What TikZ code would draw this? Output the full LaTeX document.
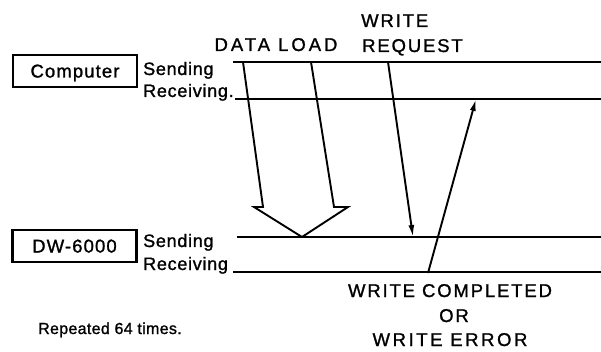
\documentclass[tikz,border=0pt]{standalone}
\usepackage{fontspec}
\setmainfont{Liberation Sans}[FakeBold=1.2]
\usetikzlibrary{arrows.meta}
\begin{document}
\begin{tikzpicture}[x=1pt,y=-1pt,
  tl/.style={line width=2.6pt},
  lbl/.style={inner sep=0pt, font=\fontsize{18}{20}\selectfont\addfontfeature{LetterSpace=4}},
  caps/.style={inner sep=0pt, align=center, font=\fontsize{18.5}{24.5}\selectfont\addfontfeature{LetterSpace=10}},
  unitbox/.style={inner sep=0pt, font=\fontsize{18.5}{20}\selectfont\addfontfeature{LetterSpace=6}, draw, line width=2.3pt, minimum width=124pt, minimum height=32pt, text height=13pt, text depth=0pt},
  sig/.style={line width=1.9pt, -{Latex[length=12pt,width=6pt]}},
  hollow/.style={line width=1.9pt, line join=miter}]
\useasboundingbox (0,0) rectangle (601,352);

% unit boxes
\node[unitbox] (comp) at (75,71) {Computer};
\node[unitbox] (dw) at (74.5,246) {DW-6000};

% side labels
\node[lbl, anchor=base west] (cs) at (143,75) {Sending};
\node[lbl, anchor=base west] (cr) at (143,97) {Receiving.};
\node[lbl, anchor=base west] (ds) at (143,247) {Sending};
\node[lbl, anchor=base west] (dr) at (143,270) {Receiving};

% timelines
\coordinate (cs0) at (233,62);  \coordinate (cs1) at (601,62);
\coordinate (cr0) at (235,99);  \coordinate (cr1) at (601,99);
\coordinate (ds0) at (237,237); \coordinate (ds1) at (601,237);
\coordinate (dr0) at (233,272); \coordinate (dr1) at (601,272);
\draw[tl] (cs0) -- (cs1);
\draw[tl] (cr0) -- (cr1);
\draw[tl] (ds0) -- (ds1);
\draw[tl] (dr0) -- (dr1);

% data load hollow arrow
\coordinate (dl1) at (243,62);
\coordinate (dl2) at (263,207);
\coordinate (dl3) at (254,207);
\coordinate (dl4) at (302,237);
\coordinate (dl5) at (348,207);
\coordinate (dl6) at (334,207);
\coordinate (dl7) at (311,62);
\draw[hollow] (dl1) -- (dl2) -- (dl3) -- (dl4) -- (dl5) -- (dl6) -- (dl7);

% write request
\coordinate (wr0) at (388,62);
\coordinate (wr1) at (413,237);
\draw[sig] (wr0) -- (wr1);

% write completed
\coordinate (wc0) at (428,273);
\coordinate (wc1) at (476,99);
\draw[sig] (wc0) -- (wc1);

% labels
\node[caps, anchor=base, font=\fontsize{18.5}{24.5}\selectfont\addfontfeature{LetterSpace=16}] (dlt) at (276,51) {DATA LOAD};
\node[caps, anchor=base west] (wrt1) at (361,27) {WRITE};
\node[caps, anchor=base west] (wrt2) at (362,52) {REQUEST};
\node[caps, anchor=base] (wct1) at (450,297) {WRITE COMPLETED};
\node[caps, anchor=base] (wct2) at (454,322) {OR};
\node[caps, anchor=base, font=\fontsize{18.5}{24.5}\selectfont\addfontfeature{LetterSpace=14}] (wct3) at (450,346) {WRITE ERROR};
\node[lbl, anchor=base west, font=\fontsize{16}{18}\selectfont\addfontfeature{LetterSpace=2}] (rep) at (38,334) {Repeated 64 times.};
\end{tikzpicture}
\end{document}
